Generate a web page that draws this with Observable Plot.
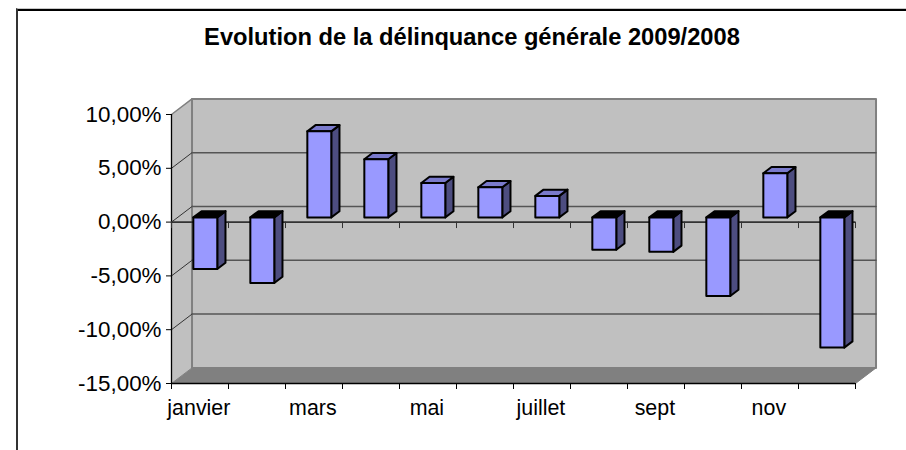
<!DOCTYPE html>
<html lang="fr">
<head>
<meta charset="utf-8">
<script src="https://cdn.jsdelivr.net/npm/d3@7"></script>
<script src="https://cdn.jsdelivr.net/npm/@observablehq/plot@0.6"></script>
<style>
html,body{margin:0;padding:0;background:#fff;width:906px;height:450px;overflow:hidden}
#wrap{position:relative;width:906px;height:450px}
#frame{position:absolute;left:16px;top:8px;right:0;bottom:0;border-left:2px solid #333;border-top:1px solid #c8c8c8;box-shadow:inset 0 2px 0 #000}
#title{position:absolute;left:18px;width:908px;top:24px;text-align:center;font:bold 23.7px "Liberation Sans",Arial,sans-serif;color:#000;z-index:2}
svg{position:absolute;left:0;top:0;z-index:1}
</style>
</head>
<body>
<div id="wrap"><div id="frame"></div><div id="title">Evolution de la délinquance générale 2009/2008</div></div>
<script>
const months = ["janvier","février","mars","avril","mai","juin","juillet","août","sept","oct","nov","déc"];
const shownMonths = ["janvier","mars","mai","juillet","sept","nov"];
const values = [-4.8,-6.1,8.0,5.4,3.2,2.8,2.0,-3.0,-3.2,-7.3,4.1,-12.1];
const yTicks = [-15,-10,-5,0,5,10];

// 3D projection expressed in scale units
const DX = 0.36, DY = 1.45;
const BAR = 0.42, FRONT = 0.3, BACK = 0.7, CENTER = 0.485;
const N = months.length, Y0 = -15, Y1 = 10;
const P = (x, y, d) => ({x: x + DX * d, y: y + DY * d});

const poly = (pts) => { const c = pts.map(p => ({...p})); c.push({...pts[0]}); return c; };
const face = (pts, o) => Plot.line(poly(pts), {x: "x", y: "y", ...o});

const fr = v => (v < 0 ? "-" : "") + d3.format(".2f")(Math.abs(v)).replace(".", ",") + "%";
const boundaries = d3.range(0, N + 1);

const barMarks = [];
values.forEach((v, i) => {
  const x0 = i + CENTER - BAR / 2, x1 = i + CENTER + BAR / 2;
  const style = {stroke: "#000", strokeWidth: 2, strokeLinejoin: "round"};
  const top = Math.max(v, 0), bot = Math.min(v, 0);
  barMarks.push(face([P(x1, top, FRONT), P(x1, top, BACK), P(x1, bot, BACK), P(x1, bot, FRONT)], {fill: "#4d4d80", ...style}));
  barMarks.push(face([P(x0, top, FRONT), P(x1, top, FRONT), P(x1, top, BACK), P(x0, top, BACK)], {fill: v < 0 ? "#000" : "#7a7acc", ...style}));
  barMarks.push(face([P(x0, top, FRONT), P(x1, top, FRONT), P(x1, bot, FRONT), P(x0, bot, FRONT)], {fill: "#9999ff", ...style}));
});

const chart = Plot.plot({
  width: 906, height: 450,
  marginLeft: 171, marginRight: 51, marginTop: 114, marginBottom: 67,
  style: {background: "transparent", fontFamily: "'Liberation Sans',Arial,sans-serif", overflow: "visible"},
  x: {domain: [0, N], axis: null},
  y: {domain: [Y0, Y1], axis: null},
  marks: [
    // walls and floor
    face([P(0,Y0,0),P(0,Y1,0),P(0,Y1,1),P(0,Y0,1)], {fill: "#c0c0c0", stroke: "#c0c0c0", strokeWidth: 0.5}),
    face([P(0,Y0,1),P(N,Y0,1),P(N,Y1,1),P(0,Y1,1)], {fill: "#c0c0c0", stroke: "#808080", strokeWidth: 2}),
    face([P(0,Y0,0),P(N,Y0,0),P(N,Y0,1),P(0,Y0,1)], {fill: "#808080", stroke: "#808080", strokeWidth: 1}),
    // gridlines on side and back walls
    ...yTicks.filter(t => t > Y0 && t < Y1).flatMap(t => [
      Plot.line([P(0,t,0),P(0,t,1)], {x:"x", y:"y", stroke:"#333", strokeWidth:1}),
      Plot.line([P(0,t,1),P(N,t,1)], {x:"x", y:"y", stroke:"#555", strokeWidth:1.5})
    ]),
    Plot.line([P(0,Y1,0),P(0,Y1,1)], {x:"x", y:"y", stroke:"#808080", strokeWidth:1.5}),
    // front axis lines
    Plot.ruleX([0], {y1: Y0, y2: Y1, stroke: "#000", strokeWidth: 1.3}),
    Plot.ruleY([Y0], {x1: 0, x2: N, stroke: "#000", strokeWidth: 1.6}),
    Plot.ruleY([0], {x1: 0, x2: N, stroke: "#333", strokeWidth: 1.6}),
    // category ticks at zero level
    Plot.ruleX(boundaries, {y1: 0, y2: -0.6, stroke: "#333", strokeWidth: 1}),
    // axes
    Plot.axisY({ticks: yTicks, tickFormat: fr, tickSize: 5, tickPadding: 5, fontSize: 22.4, stroke: "#000", fill: "#000", label: null}),
    Plot.axisX({ticks: boundaries, tickFormat: () => "", tickSize: 6, stroke: "#000", label: null}),
    Plot.text(shownMonths, {x: d => months.indexOf(d) + 0.48, frameAnchor: "bottom", text: d => d, dy: 31, fontSize: 21.4, fill: "#000"}),
    ...barMarks
  ]
});
document.getElementById("wrap").appendChild(chart);
</script>
</body>
</html>
